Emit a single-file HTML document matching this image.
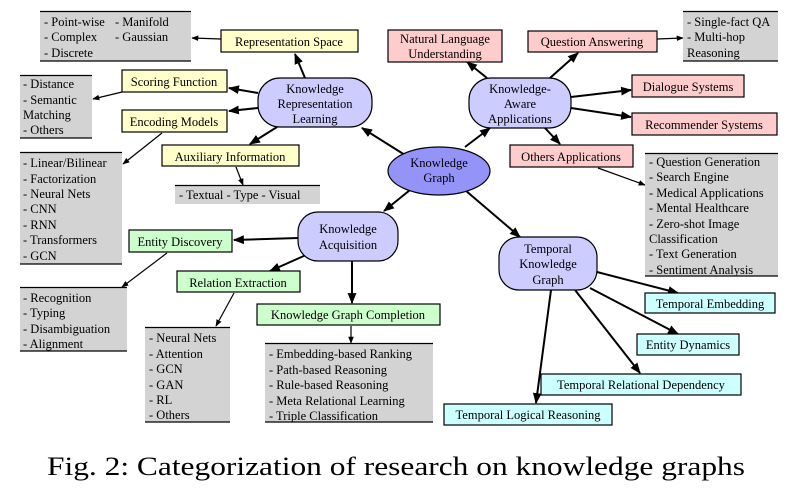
<!DOCTYPE html>
<html><head><meta charset="utf-8"><style>
body{margin:0;background:#fff}
svg{display:block}
text{font-family:"Liberation Serif",serif;font-size:12.5px;fill:#000}
.c{text-anchor:middle}
</style></head><body>
<svg width="791" height="488" viewBox="0 0 791 488" xmlns="http://www.w3.org/2000/svg">
<defs>
<marker id="a" viewBox="0 0 10 10" refX="9" refY="5" markerWidth="7" markerHeight="7" orient="auto" markerUnits="userSpaceOnUse"><path d="M0,1 L10,5 L0,9 z" fill="#000"/></marker>
<marker id="b" viewBox="0 0 10 10" refX="9" refY="5" markerWidth="11" markerHeight="11" orient="auto" markerUnits="userSpaceOnUse"><path d="M0,1 L10,5 L0,9 z" fill="#000"/></marker>
</defs>
<g stroke="#000" stroke-width="1.2" marker-end="url(#a)" fill="none">
<line x1="221" y1="39" x2="192" y2="38"/>
<line x1="122" y1="92" x2="93" y2="99"/>
<line x1="162" y1="133" x2="123" y2="164"/>
<line x1="236" y1="167" x2="243" y2="185"/>
<line x1="657" y1="39" x2="683" y2="38"/>
<line x1="598" y1="168" x2="645" y2="185"/>
<line x1="167" y1="253" x2="122" y2="287"/>
<line x1="234" y1="293" x2="216" y2="326"/>
<line x1="351" y1="326" x2="351" y2="343"/>
</g>
<g stroke="#000" stroke-width="2" marker-end="url(#b)" fill="none">
<line x1="305" y1="78" x2="295" y2="54"/>
<line x1="258" y1="93" x2="229" y2="88"/>
<line x1="258" y1="108" x2="229" y2="111"/>
<line x1="277" y1="127" x2="250" y2="144"/>
<line x1="405" y1="155" x2="362" y2="128"/>
<line x1="465" y1="147" x2="490" y2="128"/>
<line x1="410" y1="190" x2="384" y2="211"/>
<line x1="465" y1="190" x2="520" y2="237"/>
<line x1="487" y1="78" x2="467" y2="62"/>
<line x1="550" y1="78" x2="578" y2="53"/>
<line x1="571" y1="97" x2="631" y2="90"/>
<line x1="571" y1="108" x2="631" y2="117"/>
<line x1="544" y1="127" x2="560" y2="144"/>
<line x1="298" y1="238" x2="234" y2="240"/>
<line x1="306" y1="255" x2="270" y2="271"/>
<line x1="352" y1="261" x2="352" y2="303"/>
<line x1="597" y1="272" x2="678" y2="293"/>
<line x1="590" y1="288" x2="678" y2="334"/>
<line x1="575" y1="290" x2="640" y2="373"/>
<line x1="551" y1="290" x2="536" y2="403"/>
</g>
<g fill="#d3d3d3">
<rect x="40" y="11" width="151" height="50"/>
<rect x="20" y="75" width="72" height="63"/>
<rect x="20" y="152" width="102" height="112"/>
<rect x="175" y="185" width="145" height="19"/>
<rect x="683" y="11" width="95" height="50"/>
<rect x="645" y="153" width="133" height="123"/>
<rect x="20" y="287" width="107" height="64"/>
<rect x="145" y="327" width="85" height="95"/>
<rect x="265" y="343" width="168" height="79"/>
</g>
<g stroke="#000" stroke-width="1.2">
<line x1="40" y1="11.5" x2="191" y2="11.5"/><line x1="40" y1="61" x2="191" y2="61"/>
<line x1="20" y1="75.5" x2="92" y2="75.5"/><line x1="20" y1="138" x2="92" y2="138"/>
<line x1="20" y1="152.5" x2="122" y2="152.5"/><line x1="20" y1="264" x2="122" y2="264"/>
<line x1="175" y1="185.5" x2="320" y2="185.5"/>
<line x1="683" y1="11.5" x2="778" y2="11.5"/><line x1="683" y1="61" x2="778" y2="61"/>
<line x1="645" y1="153.5" x2="778" y2="153.5"/><line x1="645" y1="276" x2="778" y2="276"/>
<line x1="20" y1="287.5" x2="127" y2="287.5"/><line x1="20" y1="351" x2="127" y2="351"/>
<line x1="145" y1="327.5" x2="230" y2="327.5"/><line x1="145" y1="422" x2="230" y2="422"/>
<line x1="265" y1="343.5" x2="433" y2="343.5"/><line x1="265" y1="422" x2="433" y2="422"/>
</g>
<g stroke="#000" stroke-width="1.2">
<rect x="221" y="30" width="137" height="22" fill="#ffffcc"/>
<rect x="122" y="70" width="105" height="22" fill="#ffffcc"/>
<rect x="122" y="110" width="105" height="22" fill="#ffffcc"/>
<rect x="162" y="145" width="137" height="21" fill="#ffffcc"/>
<rect x="388" y="30" width="114" height="32" fill="#ffcccc"/>
<rect x="528" y="31" width="129" height="21" fill="#ffcccc"/>
<rect x="632" y="75" width="112" height="22" fill="#ffcccc"/>
<rect x="632" y="113" width="145" height="22" fill="#ffcccc"/>
<rect x="510" y="145" width="123" height="22" fill="#ffcccc"/>
<rect x="129" y="230" width="103" height="22" fill="#ccffcc"/>
<rect x="177" y="271" width="123" height="21" fill="#ccffcc"/>
<rect x="257" y="304" width="183" height="21" fill="#ccffcc"/>
<rect x="645" y="293" width="130" height="20" fill="#ccffff"/>
<rect x="637" y="334" width="102" height="21" fill="#ccffff"/>
<rect x="541" y="374" width="200" height="21" fill="#ccffff"/>
<rect x="444" y="404" width="168" height="21" fill="#ccffff"/>
<rect x="258" y="78" width="114" height="49" rx="22" fill="#ccccff"/>
<rect x="469" y="78" width="102" height="50" rx="22" fill="#ccccff"/>
<rect x="298" y="212" width="100" height="49" rx="20" fill="#ccccff"/>
<rect x="499" y="237" width="98" height="53" rx="20" fill="#ccccff"/>
<ellipse cx="439" cy="171" rx="51" ry="24" fill="#9494f8"/>
</g>
<text class="c" x="289" y="46">Representation Space</text>
<text class="c" x="174" y="86">Scoring Function</text>
<text class="c" x="174" y="126">Encoding Models</text>
<text class="c" x="230" y="161">Auxiliary Information</text>
<text class="c" x="445" y="43">Natural Language</text>
<text class="c" x="445" y="58">Understanding</text>
<text class="c" x="592" y="46">Question Answering</text>
<text class="c" x="688" y="91">Dialogue Systems</text>
<text class="c" x="704" y="129">Recommender Systems</text>
<text class="c" x="571" y="161">Others Applications</text>
<text class="c" x="180" y="246">Entity Discovery</text>
<text class="c" x="238" y="287">Relation Extraction</text>
<text class="c" x="348" y="319">Knowledge Graph Completion</text>
<text class="c" x="710" y="308">Temporal Embedding</text>
<text class="c" x="688" y="349">Entity Dynamics</text>
<text class="c" x="641" y="389">Temporal Relational Dependency</text>
<text class="c" x="528" y="419">Temporal Logical Reasoning</text>
<text class="c" x="315" y="93">Knowledge</text>
<text class="c" x="315" y="108">Representation</text>
<text class="c" x="315" y="123">Learning</text>
<text class="c" x="520" y="93">Knowledge-</text>
<text class="c" x="520" y="108">Aware</text>
<text class="c" x="520" y="123">Applications</text>
<text class="c" x="348" y="233">Knowledge</text>
<text class="c" x="348" y="249">Acquisition</text>
<text class="c" x="548" y="253">Temporal</text>
<text class="c" x="548" y="268">Knowledge</text>
<text class="c" x="548" y="284">Graph</text>
<text class="c" x="439" y="167">Knowledge</text>
<text class="c" x="439" y="182">Graph</text>
<text x="44" y="26">- Point-wise</text><text x="115" y="26">- Manifold</text>
<text x="44" y="41">- Complex</text><text x="115" y="41">- Gaussian</text>
<text x="44" y="57">- Discrete</text>
<text x="23" y="88">- Distance</text>
<text x="23" y="104">- Semantic</text>
<text x="23" y="119">Matching</text>
<text x="23" y="134">- Others</text>
<text x="23" y="167">- Linear/Bilinear</text>
<text x="23" y="183">- Factorization</text>
<text x="23" y="198">- Neural Nets</text>
<text x="23" y="213">- CNN</text>
<text x="23" y="229">- RNN</text>
<text x="23" y="244">- Transformers</text>
<text x="23" y="260">- GCN</text>
<text x="179" y="199">- Textual - Type - Visual</text>
<text x="687" y="26">- Single-fact QA</text>
<text x="687" y="41">- Multi-hop</text>
<text x="687" y="57">Reasoning</text>
<text x="649" y="166">- Question Generation</text>
<text x="649" y="181">- Search Engine</text>
<text x="649" y="197">- Medical Applications</text>
<text x="649" y="212">- Mental Healthcare</text>
<text x="649" y="228">- Zero-shot Image</text>
<text x="649" y="243">Classification</text>
<text x="649" y="258">- Text Generation</text>
<text x="649" y="274">- Sentiment Analysis</text>
<text x="23" y="302">- Recognition</text>
<text x="23" y="317">- Typing</text>
<text x="23" y="333">- Disambiguation</text>
<text x="23" y="348">- Alignment</text>
<text x="149" y="342">- Neural Nets</text>
<text x="149" y="358">- Attention</text>
<text x="149" y="373">- GCN</text>
<text x="149" y="389">- GAN</text>
<text x="149" y="404">- RL</text>
<text x="149" y="419">- Others</text>
<text x="269" y="358">- Embedding-based Ranking</text>
<text x="269" y="374">- Path-based Reasoning</text>
<text x="269" y="389">- Rule-based Reasoning</text>
<text x="269" y="405">- Meta Relational Learning</text>
<text x="269" y="420">- Triple Classification</text>
<text x="396" y="475" class="c" style="font-size:26px" textLength="698" lengthAdjust="spacingAndGlyphs">Fig. 2: Categorization of research on knowledge graphs</text>
</svg>
</body></html>
